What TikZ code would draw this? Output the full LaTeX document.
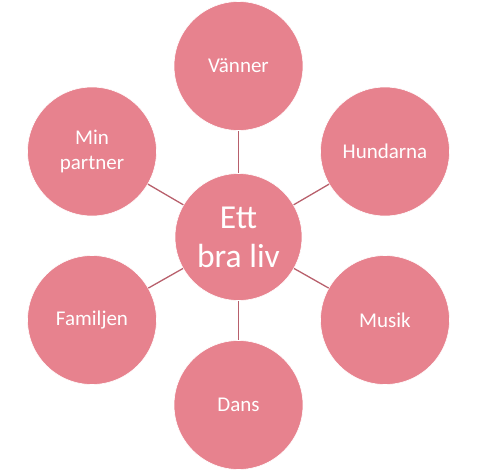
\documentclass[tikz,border=0pt]{standalone}
\usepackage{fontspec}
\setmainfont{Carlito}
\definecolor{circfill}{HTML}{E7828E}
\definecolor{linecol}{HTML}{B8606C}
\begin{document}
\begin{tikzpicture}[x=1pt,y=-1pt,
  bubble/.style={circle,fill=circfill,draw=white,line width=0.6pt,inner sep=0pt,minimum size=129pt,
    text=white,align=center,font=\fontsize{21}{25}\selectfont},
  hub/.style={bubble,minimum size=127pt,font=\fontsize{33.5}{39}\selectfont},
  link/.style={draw=linecol,line width=1.3pt}]
\useasboundingbox (0,0) rectangle (480,472);
\node[hub] (c) at (238.5,237) {Ett\\bra liv};
\node[bubble] (v) at (238.5,66) {Vänner};
\node[bubble] (h) at (385,151.5) {Hundarna};
\node[bubble] (m) at (385,320) {Musik};
\node[bubble] (d) at (238.5,405) {Dans};
\node[bubble] (f) at (92,320) {Familjen};
\node[bubble] (p) at (92,151.5) {Min\\partner};
\foreach \n in {v,h,m,d,f,p} \draw[link] (c) -- (\n);
\end{tikzpicture}
\end{document}
